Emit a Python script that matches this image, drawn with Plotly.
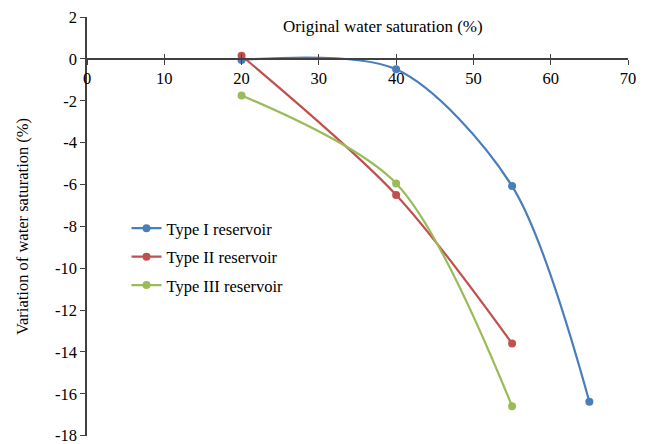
import plotly.graph_objects as go

x_type1 = [20, 40, 55, 65]
y_type1 = [-0.05, -0.5, -6.08, -16.38]
x_type2 = [20, 40, 55]
y_type2 = [0.15, -6.5, -13.6]
x_type3 = [20, 40, 55]
y_type3 = [-1.75, -5.95, -16.6]
names = ["Type I reservoir", "Type II reservoir", "Type III reservoir"]
colors = ["#4A7EBB", "#C0504D", "#9BBB59"]
x_ticks = [0, 10, 20, 30, 40, 50, 60, 70]
y_ticks = [2, 0, -2, -4, -6, -8, -10, -12, -14, -16, -18]
y_ticktext = ["2", "0", "-2", "-4", "-6", "-8", "-10", "-12", "-14", "-16", "-18"]

FONT = "Liberation Serif"
AX = "#404040"
FS = 16.5

fig = go.Figure()
for i, (xs, ys, n, c) in enumerate(zip([x_type1, x_type2, x_type3], [y_type1, y_type2, y_type3], names, colors)):
    fig.add_trace(go.Scatter(x=xs, y=ys, name=n, mode="lines+markers", legendgroup=f"g{i}",
                             line=dict(color=c, width=2.2, shape="spline", smoothing=0.85),
                             marker=dict(color=c, size=8)))
fig.add_trace(go.Scatter(x=[0, 70], y=[0, 0], xaxis="x2", mode="lines",
                         line=dict(width=0), showlegend=False, hoverinfo="skip"))

fig.update_layout(
    width=647, height=444,
    margin=dict(l=87, r=19, t=17, b=8),
    plot_bgcolor="white", paper_bgcolor="white",
    font=dict(family=FONT, size=FS, color="#000000"),
    xaxis=dict(range=[0, 70], tickvals=x_ticks, anchor="free", position=0.9,
               showline=True, linecolor=AX, linewidth=1.5, ticks="outside", ticklen=5,
               tickcolor=AX, tickwidth=1, showgrid=False, zeroline=False,
               tickfont=dict(family=FONT, size=FS)),
    xaxis2=dict(range=[0, 70], tickvals=x_ticks, overlaying="x", anchor="free", position=0.9,
                showline=False, ticks="inside", ticklen=5, tickcolor=AX, tickwidth=1,
                showticklabels=False, showgrid=False, zeroline=False),
    yaxis=dict(range=[-18.02, 2.0], tickvals=y_ticks, ticktext=y_ticktext, showline=True,
               linecolor=AX, linewidth=1.5, ticks="outside", ticklen=5, tickcolor=AX,
               showgrid=False, zeroline=False, automargin=False, ticklabeloverflow="allow",
               tickfont=dict(family=FONT, size=FS),
               title=dict(text="Variation of water saturation (%)", font=dict(family=FONT, size=FS), standoff=22)),
    legend=dict(x=0.073, y=0.537, xanchor="left", yanchor="top", bgcolor="rgba(0,0,0,0)",
                font=dict(family=FONT, size=FS), itemwidth=30, tracegroupgap=4),
    showlegend=True,
)
fig.add_annotation(text="Original water saturation (%)", xref="paper", yref="paper",
                   x=0.548, y=0.978, xanchor="center", yanchor="middle", showarrow=False,
                   font=dict(family=FONT, size=17))
fig.write_html("out.html")
